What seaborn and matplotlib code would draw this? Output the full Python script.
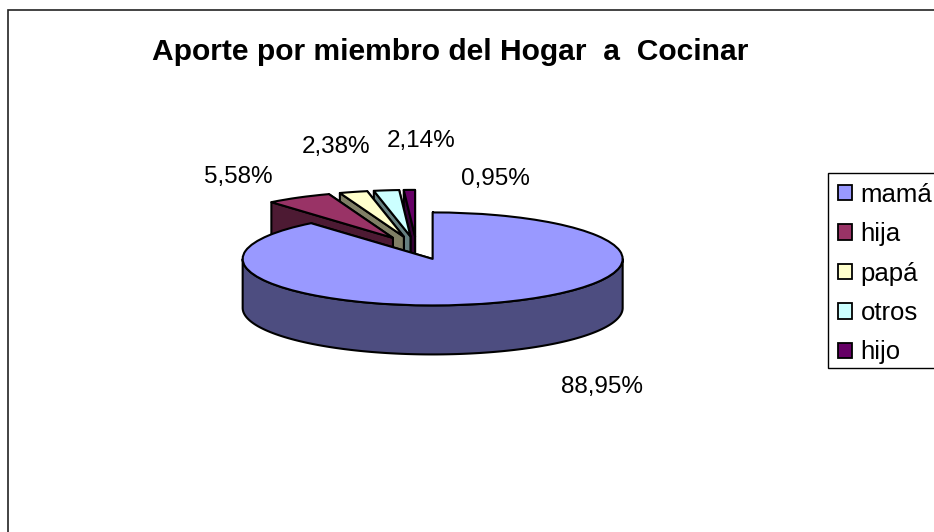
import numpy as np
import matplotlib
matplotlib.use("Agg")
import matplotlib.pyplot as plt
from matplotlib.patches import Rectangle
import seaborn as sns

categories = ["mamá", "hija", "papá", "otros", "hijo"]
values = [88.95, 5.58, 2.38, 2.14, 0.95]
top_colors = ["#9999FF", "#993366", "#FFFFCC", "#CCFFFF", "#660066"]
side_colors = ["#4D4D80", "#4D1A33", "#808066", "#668080", "#330033"]
title = "Aporte por miembro del Hogar  a  Cocinar"

W, H = 934, 532
CX, CY = 416.5, 248    # pie centre, pixels
RX, RY = 190, 46.5     # projected radii, pixels
DEPTH = 49 / RY        # extrusion in data units
EXPLODE = 0.25
LW = 1.5

sns.set_theme(style="white", font="Liberation Sans")
palette = sns.color_palette(top_colors)

fig = plt.figure(figsize=(W / 100, H / 100), dpi=100, facecolor="white")
ax = fig.add_axes([0, 0, 1, 1])

wedges, _ = ax.pie(values, colors=palette, explode=[EXPLODE] * len(values),
                   startangle=90, counterclock=False, radius=1,
                   wedgeprops=dict(edgecolor="black", linewidth=LW))
ax.set_aspect("auto")
ax.set_xlim(-CX / RX, (W - CX) / RX)
ax.set_ylim((CY - H) / RY, CY / RY)
ax.axis("off")


def polar(w, deg):
    t = np.radians(deg)
    return w.center[0] + w.r * np.cos(t), w.center[1] + w.r * np.sin(t)


def cut_face(w, deg, color, z):
    x0, y0 = w.center
    x1, y1 = polar(w, deg)
    ax.fill([x0, x1, x1, x0], [y0, y1, y1 - DEPTH, y0 - DEPTH], facecolor=color,
            edgecolor="black", linewidth=LW, zorder=z, joinstyle="round")


def front_rim(w, color, z):
    for k in (-1, 0, 1):
        a = max(w.theta1, -180 + 360 * k)
        b = min(w.theta2, 0 + 360 * k)
        if b <= a:
            continue
        t = np.radians(np.linspace(a, b, 200))
        xs = w.center[0] + w.r * np.cos(t)
        ys = w.center[1] + w.r * np.sin(t)
        ax.fill(np.r_[xs, xs[::-1]], np.r_[ys, ys[::-1] - DEPTH], facecolor=color,
                edgecolor="black", linewidth=LW, zorder=z, joinstyle="round")


# paint from the back slice to the front slice
n = len(wedges)
for i, (w, side) in enumerate(zip(wedges, side_colors)):
    base = 10 * (n - i)
    cut_face(w, w.theta1, side, base)
    cut_face(w, w.theta2, side, base + 1)
    front_rim(w, side, base + 2)
    w.set_zorder(base + 3)
    w.set_joinstyle("round")


def fx(px):
    return px / W


def fy(py):
    return 1 - py / H


# chart frame (runs off the right and bottom of the picture)
fig.add_artist(Rectangle((fx(8), fy(560)), fx(960 - 8), fy(10) - fy(560),
                         transform=fig.transFigure, fill=False,
                         edgecolor="#222222", linewidth=1.2))

fig.text(fx(450), fy(51.5), title, ha="center", va="center",
         fontsize=21.6, fontweight="bold", color="black")

label_pos = [(602, 386.5), (238, 177.5), (336, 147.5), (421, 140.5), (495, 178.5)]
for v, (px, py) in zip(values, label_pos):
    fig.text(fx(px), fy(py), f"{v:.2f}".replace(".", ",") + "%",
             ha="center", va="center", fontsize=17.5, color="black")

# legend box also runs off the right edge
fig.add_artist(Rectangle((fx(828), fy(368)), fx(960 - 828), fy(173) - fy(368),
                         transform=fig.transFigure, facecolor="white",
                         edgecolor="black", linewidth=1.0))
leg = fig.legend(wedges, categories, loc="upper left",
                 bbox_to_anchor=(fx(829), fy(173.5)), bbox_transform=fig.transFigure,
                 fontsize=18.5, frameon=False, borderaxespad=0, borderpad=0.36,
                 handlelength=0.55, handleheight=0.55, handletextpad=0.32,
                 labelspacing=0.6, labelcolor="black")
leg.set_zorder(5)
for h in leg.get_patches():
    h.set_linewidth(1.3)
    h.set_edgecolor("black")

fig.savefig("out.png", dpi=100, facecolor="white")
